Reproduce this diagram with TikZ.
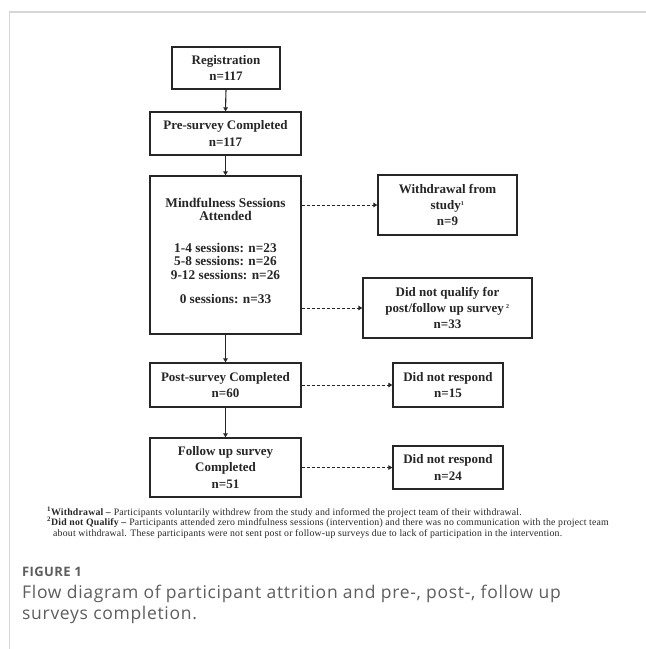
\documentclass[tikz,border=0pt]{standalone}
\usepackage{fontspec}
\setmainfont{Liberation Serif}
\newfontfamily\fnfont[LetterSpace=2]{Liberation Serif}
\newfontfamily\capfont[LetterSpace=4]{Open Sans}
\newfontfamily\figfont[LetterSpace=3]{Open Sans}
\usetikzlibrary{arrows.meta}
\definecolor{framegray}{HTML}{D6D6D6}
\definecolor{ink}{HTML}{262626}
\definecolor{capgray}{HTML}{5E5E5E}
\newcommand{\boxfont}{\bfseries\fontsize{13}{16.3}\selectfont}
\tikzset{
  box/.style={draw=ink, line width=1.3pt, fill=white, align=center, font=\boxfont, inner sep=0pt, text=ink},
  boxtext/.style={align=center, inner sep=0pt, text=ink},
  solidarrow/.style={draw=ink, line width=1.1pt, -{Triangle[length=4pt,width=4.5pt]}},
  dasharrow/.style={draw=ink, line width=1pt, dash pattern=on 3pt off 2pt, -{Triangle[length=4pt,width=4.5pt]}},
  fnote/.style={anchor=base west, inner sep=0pt, text=ink, font=\fnfont\fontsize{9.8}{10.5}\selectfont},
  capline/.style={anchor=base west, inner sep=0pt, text=capgray, font=\capfont\fontsize{17.5}{21}\selectfont},
}
\begin{document}
\begin{tikzpicture}[x=1pt,y=-1pt]
\useasboundingbox (0,0) rectangle (646,649);
\fill[white] (0,0) rectangle (646,649);
\draw[framegray, line width=1.5pt] (646,12) -- (9.5,12) -- (9.5,649);

% main column
\node[box, minimum width=108pt, minimum height=42pt] (reg) at (226,68) {Registration\\n=117};
\node[box, minimum width=151pt, minimum height=43pt] (pre) at (225.5,133.5) {Pre-survey Completed\\n=117};
\node[box, minimum width=151pt, minimum height=158pt] (mind) at (225.5,255) {};
\node[boxtext, font=\bfseries\fontsize{13.3}{13.6}\selectfont] (mindtxt) at (225.5,251)
  {Mindfulness Sessions\\Attended\\[18pt]1-4 sessions: n=23\\5-8 sessions: n=26\\9-12 sessions: n=26\\[10.8pt]0 sessions: n=33};
\node[box, minimum width=151pt, minimum height=44pt] (post) at (225.5,385) {Post-survey Completed\\n=60};
\node[box, minimum width=151pt, minimum height=59pt] (fu) at (225.5,467.5) {Follow up survey\\Completed\\n=51};

% side column
\node[box, minimum width=139pt, minimum height=60pt] (with) at (447.5,205) {Withdrawal from\\study\textsuperscript{\fontsize{6}{6}\selectfont 1}\\n=9};
\node[box, minimum width=169pt, minimum height=60pt] (dnq) at (447.5,308) {Did not qualify for\\post/follow up survey\,\textsuperscript{\fontsize{6}{6}\selectfont 2}\\n=33};
\node[box, minimum width=110pt, minimum height=44pt] (dnr1) at (448,385) {Did not respond\\n=15};
\node[box, minimum width=110pt, minimum height=43pt] (dnr2) at (448,467.5) {Did not respond\\n=24};

% connectors
\draw[solidarrow] (reg.south) -- (pre.north);
\draw[solidarrow] (pre.south) -- (mind.north);
\draw[solidarrow] (mind.south) -- (post.north);
\draw[solidarrow] (post.south) -- (fu.north);
\draw[dasharrow] (mind.east |- with.west) -- (with.west);
\draw[dasharrow] (mind.east |- dnq.west) -- (dnq.west);
\draw[dasharrow] (post.east) -- (dnr1.west);
\draw[dasharrow] (fu.east) -- (dnr2.west);

% footnotes
\node[fnote] (fn1) at (47,515) {\textbf{\textsuperscript{1}Withdrawal –} Participants voluntarily withdrew from the study and informed the project team of their withdrawal.};
\node[fnote] (fn2) at (47,525.5) {\textbf{\textsuperscript{2}Did not Qualify –} Participants attended zero mindfulness sessions (intervention) and there was no communication with the project team};
\node[fnote] (fn3) at (53,536) {about withdrawal. These participants were not sent post or follow-up surveys due to lack of participation in the intervention.};

% caption
\node[anchor=base west, inner sep=0pt, text=capgray, font=\figfont\bfseries\fontsize{13}{15}\selectfont] (figlabel) at (22,576.5) {FIGURE 1};
\node[capline] (cap1) at (22,598) {Flow diagram of participant attrition and pre-, post-, follow up};
\node[capline] (cap2) at (22,619) {surveys completion.};
\end{tikzpicture}
\end{document}
